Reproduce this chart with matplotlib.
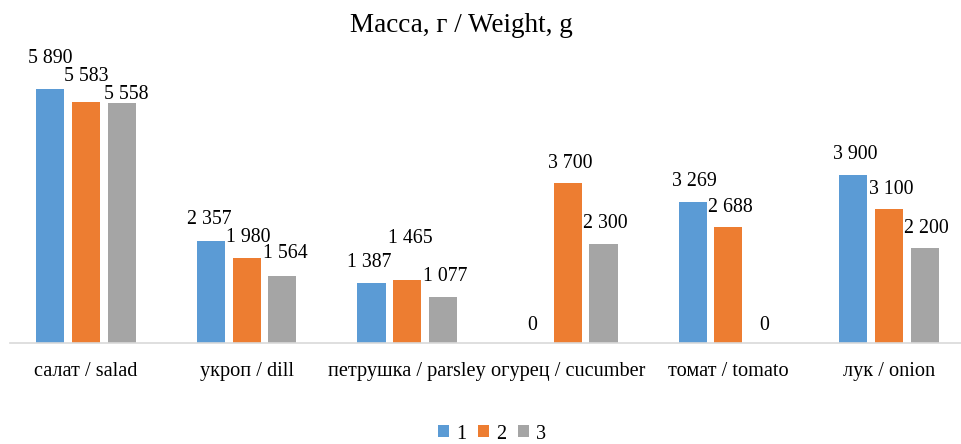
import matplotlib
matplotlib.use("Agg")
import matplotlib.pyplot as plt
import numpy as np

categories = ["салат / salad", "укроп / dill", "петрушка / parsley", "огурец / cucumber",
              "томат / tomato", "лук / onion"]
series_names = ["1", "2", "3"]
s1 = [5890, 2357, 1387, 0, 3269, 3900]
s2 = [5583, 1980, 1465, 3700, 2688, 3100]
s3 = [5558, 1564, 1077, 2300, 0, 2200]
title = "Масса, г / Weight, g"

colors = ["#5B9BD5", "#ED7D31", "#A5A5A5"]
# label offsets (pixels, relative to bar top centre) for manually moved labels
default_off = (2, 20)
label_off = {(0, 0): (0, 30), (0, 1): (0, 26), (0, 2): (5, 9),
             (1, 0): (-2, 22), (1, 2): (3, 22),
             (2, 0): (-2, 21), (2, 1): (3, 41)}

plt.rcParams['font.family'] = ['Liberation Serif', 'DejaVu Serif']

fig = plt.figure(figsize=(9.61, 4.44), dpi=100)
ax = fig.add_axes([10/961, 1 - 343/444, 951/961, (343 - 41)/444])

x = np.arange(len(categories))
spacing = 0.222
width = 0.175
series = [s1, s2, s3]
for i, (vals, c, name) in enumerate(zip(series, colors, series_names)):
    xs = x + (i - 1) * spacing
    ax.bar(xs, vals, width, color=c, label=name, zorder=2)
    for j, (xx, v) in enumerate(zip(xs, vals)):
        dx, dy = label_off.get((j, i), default_off)
        if v == 0:
            dx, dy = 0, 18
        ax.annotate(f"{v:,}".replace(",", " "), (xx, v), xytext=(dx, dy),
                    textcoords="offset pixels", ha="center", va="center",
                    fontsize=14.3, color="#000000")

ax.set_ylim(0, 7000)
ax.set_xlim(-(86 - 10) / 160.6, (961 - 86) / 160.6)
ax.set_yticks([])
ax.set_xticks(x)
ax.set_xticklabels(categories, fontsize=14.6)
ax.tick_params(axis='x', length=0, pad=14)
for s in ["top", "right", "left"]:
    ax.spines[s].set_visible(False)
ax.spines["bottom"].set_color("#D9D9D9")
ax.spines["bottom"].set_linewidth(1.2)

fig.text(461/961, 1 - 26/444, title, ha="center", va="center", fontsize=19.5)

leg = fig.legend(loc="center", bbox_to_anchor=(492/961, 1 - 434/444), ncol=3, frameon=False,
                 fontsize=14.5, handlelength=0.55, handleheight=0.55, handletextpad=0.35,
                 columnspacing=0.6, borderpad=0.1)

fig.savefig("out.png", dpi=100)
